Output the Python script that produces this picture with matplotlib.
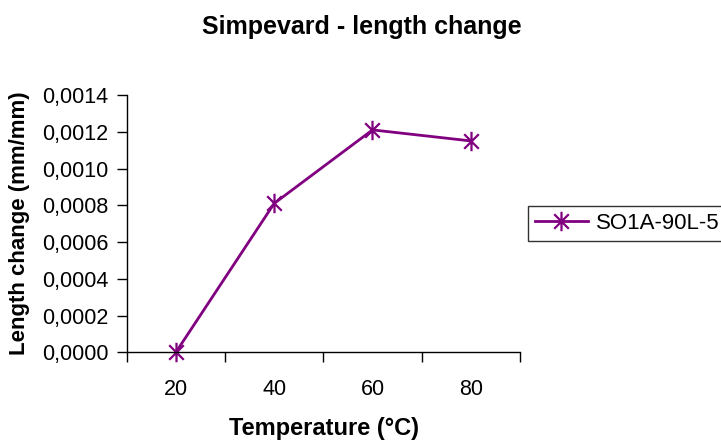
import matplotlib
matplotlib.use("Agg")
import matplotlib.pyplot as plt
from matplotlib.path import Path
from matplotlib.ticker import FixedLocator, FuncFormatter

# Data
temperaturas = ['20', '40', '60', '80']
cambio_longitud = [0.0000, 0.00081, 0.00121, 0.00115]
serie = 'SO1A-90L-5'

plt.rcParams['font.family'] = ['Liberation Sans', 'DejaVu Sans']

# asterisk marker like Excel: vertical bar plus an X
asterisco = Path(
    [(0, -1), (0, 1), (-0.75, -0.75), (0.75, 0.75), (-0.75, 0.75), (0.75, -0.75)],
    [Path.MOVETO, Path.LINETO, Path.MOVETO, Path.LINETO, Path.MOVETO, Path.LINETO])

fig = plt.figure(figsize=(7.21, 4.43), dpi=100)
ax = fig.add_axes([0.1757, 0.2047, 0.5455, 0.5809])

x = list(range(len(temperaturas)))
ax.plot(x, cambio_longitud, color='#800080', linewidth=2, marker=asterisco,
        markersize=14, markeredgewidth=1.6, label=serie, clip_on=False)

ax.set_xlim(-0.5, len(temperaturas) - 0.5)
ax.set_ylim(0, 0.0014)
ax.set_yticks([i * 0.0002 for i in range(8)])
ax.yaxis.set_major_formatter(FuncFormatter(lambda v, p: ('%.4f' % v).replace('.', ',')))

ax.set_xticks(x)
ax.set_xticklabels(temperaturas)
ax.xaxis.set_minor_locator(FixedLocator([i - 0.5 for i in range(len(temperaturas) + 1)]))
ax.tick_params(axis='x', which='major', length=0, pad=19, labelsize=15.5)
ax.tick_params(axis='x', which='minor', length=7, width=1, direction='out')
ax.tick_params(axis='y', length=7, width=1, direction='out', labelsize=15.5, pad=6)

for s in ['top', 'right']:
    ax.spines[s].set_visible(False)
ax.spines['left'].set_linewidth(1)
ax.spines['bottom'].set_linewidth(1)

fig.text(0.502, 0.938, 'Simpevard - length change', ha='center', va='center',
         fontsize=18, fontweight='bold')
fig.text(0.450, 1 - 429 / 443, 'Temperature (°C)', ha='center', va='center',
         fontsize=17, fontweight='bold')
fig.text(20 / 721, 0.4955, 'Length change (mm/mm)', ha='center', va='center',
         rotation=90, fontsize=16, fontweight='bold')

leg = fig.legend(loc='center left', bbox_to_anchor=(0.7323, 0.4955), frameon=True,
                 fancybox=False, fontsize=16, handlelength=2.4, handletextpad=0.35,
                 borderpad=0.3, borderaxespad=0)
leg.get_frame().set_edgecolor('black')
leg.get_frame().set_linewidth(1)

fig.savefig('out.png', dpi=100)
